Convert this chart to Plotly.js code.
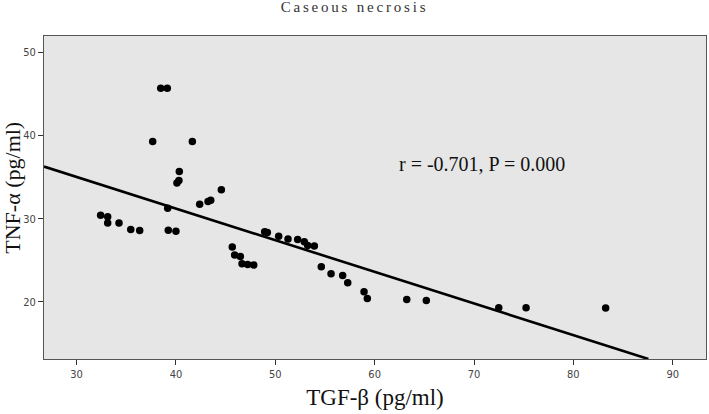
<!DOCTYPE html>
<html>
<head>
<meta charset="utf-8">
<script src="https://cdn.plot.ly/plotly-3.0.1.min.js"></script>
<style>
html,body{margin:0;padding:0;background:#fff;}
#chart{width:709px;height:414px;}
.gtitle{letter-spacing:2.8px;}
</style>
</head>
<body>
<div id="chart"></div>
<script>
// TGF-β (pg/ml) values
var tgfBeta = [38.47, 39.13, 37.66, 41.65,
  32.42, 33.13, 33.13, 34.27, 35.45, 36.35,
  39.17, 39.23, 40.00, 40.34, 40.10, 40.30,
  42.39, 43.23, 43.50, 44.57,
  45.67, 45.91, 46.48, 46.65, 47.22, 47.83,
  48.93, 49.20, 50.34, 51.28, 52.25, 52.92, 53.26, 53.93,
  54.63, 55.61, 56.78, 57.29, 58.93, 59.26,
  63.23, 65.20, 72.49, 75.24, 83.25];
// TNF-α (pg/ml) values
var tnfAlpha = [45.68, 45.68, 39.27, 39.27,
  30.43, 30.23, 29.50, 29.50, 28.70, 28.58,
  31.27, 28.63, 28.50, 35.67, 34.30, 34.60,
  31.75, 32.07, 32.23, 33.47,
  26.59, 25.63, 25.46, 24.59, 24.50, 24.43,
  28.43, 28.35, 27.91, 27.55, 27.50, 27.23, 26.78, 26.71,
  24.23, 23.39, 23.19, 22.30, 21.22, 20.42,
  20.30, 20.18, 19.30, 19.30, 19.27];

// fitted regression line
var fitIntercept = 46.42;
var fitSlope = -0.380;
var fitXEnds = [26.72, 87.55];
var fitYEnds = fitXEnds.map(function(x){ return fitIntercept + fitSlope * x; });

var xTickVals = [30, 40, 50, 60, 70, 80, 90];
var yTickVals = [20, 30, 40, 50];

var chartTitle = 'Caseous necrosis';
var xTitle = 'TGF-β (pg/ml)';
var yTitle = 'TNF-α (pg/ml)';
var statText = 'r = -0.701, P = 0.000';

var traces = [
  {
    x: fitXEnds, y: fitYEnds, type: 'scatter', mode: 'lines',
    line: {color: '#000', width: 2.6}, hoverinfo: 'skip', showlegend: false
  },
  {
    x: tgfBeta, y: tnfAlpha, type: 'scatter', mode: 'markers',
    marker: {color: '#000', size: 7.5}, showlegend: false
  }
];

var tickFont = {family: '"Liberation Sans Narrow", "DejaVu Sans Condensed", "Liberation Sans", sans-serif', size: 11, color: '#444'};

var layout = {
  width: 709, height: 414,
  margin: {l: 44, r: 3, t: 36, b: 55},
  paper_bgcolor: '#ffffff',
  plot_bgcolor: '#e6e6e6',
  title: {
    text: chartTitle,
    x: 0.5, xref: 'container', xanchor: 'center',
    y: 0.997, yref: 'container', yanchor: 'top',
    font: {family: '"Liberation Serif", "Times New Roman", serif', size: 15, color: '#333'}
  },
  xaxis: {
    range: [26.72, 93.35],
    tickmode: 'array', tickvals: xTickVals,
    ticks: 'outside', ticklen: 5, tickwidth: 1, tickcolor: '#333',
    showgrid: false, zeroline: false,
    showline: true, mirror: true, linecolor: '#555', linewidth: 1,
    tickfont: tickFont,
    title: {
      text: xTitle, standoff: 8,
      font: {family: '"Liberation Serif", "Times New Roman", serif', size: 23, color: '#111'}
    }
  },
  yaxis: {
    range: [13.15, 51.95],
    tickmode: 'array', tickvals: yTickVals,
    ticks: 'outside', ticklen: 5, tickwidth: 1, tickcolor: '#333',
    showgrid: false, zeroline: false,
    showline: true, mirror: true, linecolor: '#555', linewidth: 1,
    tickfont: tickFont,
    title: {text: ''}
  },
  annotations: [
    {
      text: statText, xref: 'x', yref: 'y', x: 70.8, y: 36.6,
      showarrow: false, xanchor: 'center', yanchor: 'middle',
      font: {family: '"Liberation Serif", "Times New Roman", serif', size: 20, color: '#111'}
    },
    {
      text: yTitle, xref: 'paper', yref: 'paper', x: -0.048, y: 0.531,
      textangle: -90, showarrow: false, xanchor: 'center', yanchor: 'middle',
      font: {family: '"Liberation Serif", "Times New Roman", serif', size: 22, color: '#111'}
    }
  ]
};

Plotly.newPlot('chart', traces, layout, {displayModeBar: false, staticPlot: true});
</script>
</body>
</html>
